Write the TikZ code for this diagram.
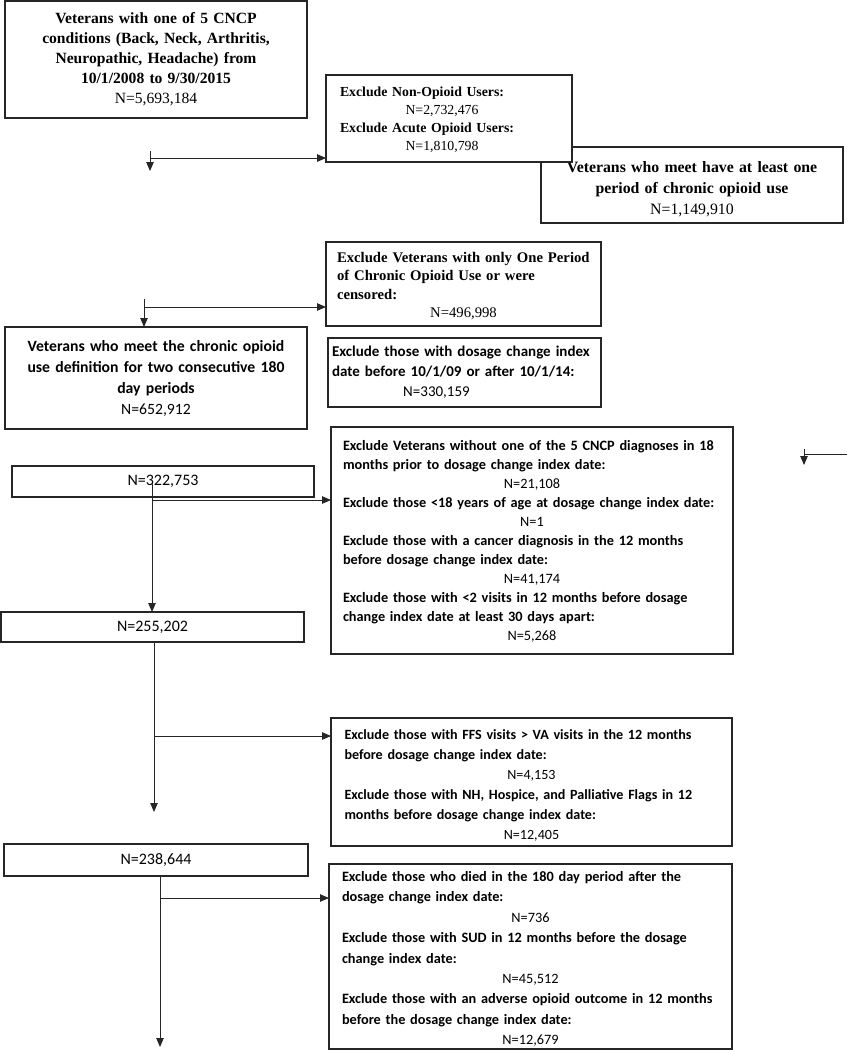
\documentclass[tikz,border=0pt]{standalone}
\usepackage{fontspec}
\setmainfont{Liberation Serif}
\newfontfamily\calibri{Carlito}
\usetikzlibrary{arrows.meta}
\newcommand{\topstrut}[1]{\rule{0pt}{#1}}
\begin{document}
\begin{tikzpicture}[x=1pt,y=-1pt,
  box/.style={draw=black!85, line width=1.3pt, fill=white, inner sep=0pt, outer sep=0pt, rectangle},
  arr/.style={-{Triangle[length=9pt,width=7.5pt]}, line width=0.9pt, draw=black!85},
  ln/.style={line width=0.9pt, draw=black!85},
  countbox/.style={box, font=\calibri\fontsize{16}{18}\selectfont},
]
\useasboundingbox (0,0) rectangle (847,1050);

% top box
\node[box, minimum width=302pt, minimum height=117pt, text width=290pt, align=center,
      font=\fontsize{15.6}{20}\selectfont] (b1) at (156,59.5)
  {\bfseries Veterans with one of 5 CNCP\\ conditions (Back, Neck, Arthritis,\\ Neuropathic, Headache) from\\ 10/1/2008 to 9/30/2015\\ \mdseries N=5,693,184};

% box 3 (drawn before box 2 so box 2 overlaps it)
\node[box, minimum width=302pt, minimum height=76pt, text width=296pt, align=center,
      font=\fontsize{15.8}{21}\selectfont] (b3) at (692,185)
  {\bfseries \topstrut{19pt}Veterans who meet have at least one\\ period of chronic opioid use\\ \mdseries N=1,149,910};

% box 2
\node[box, minimum width=246pt, minimum height=87pt, text width=218pt, align=left,
      font=\fontsize{13.8}{18}\selectfont] (b2) at (449,118.5)
  {\textbf{\topstrut{13pt}Exclude Non-Opioid Users:}\par
   {\centering\hspace*{-14pt}N=2,732,476\par}
   \textbf{Exclude Acute Opioid Users:}\par
   {\centering\hspace*{-14pt}N=1,810,798\par}};

% box 4
\node[box, minimum width=275pt, minimum height=84pt, text width=253pt, align=left,
      font=\fontsize{14.7}{18.5}\selectfont] (b4) at (463.5,284)
  {\textbf{\topstrut{14pt}Exclude Veterans with only One Period\\ of Chronic Opioid Use or were\\ censored:}\par
   {\centering N=496,998\par}};

% box 5
\node[box, minimum width=302pt, minimum height=102pt, text width=296pt, align=center,
      font=\calibri\fontsize{15.7}{21}\selectfont] (b5) at (156,378)
  {\bfseries Veterans who meet the chronic opioid\\ use definition for two consecutive 180\\ day periods\\ \mdseries N=652,912};

% box 6
\node[box, minimum width=273pt, minimum height=69pt, text width=265pt, align=left,
      font=\calibri\fontsize{15}{20}\selectfont] (b6) at (464.5,372.5)
  {\textbf{Exclude those with dosage change index\\ date before 10/1/09 or after 10/1/14:}\par
   {\centering\hspace*{-56pt}N=330,159\par}};

% box 7
\node[box, minimum width=402pt, minimum height=227pt, text width=378pt, align=left,
      font=\calibri\fontsize{14.3}{19}\selectfont] (b7) at (532,540.5)
  {\textbf{\topstrut{12pt}Exclude Veterans without one of the 5 CNCP diagnoses in 18\\ months prior to dosage change index date:}\par
   {\centering N=21,108\par}
   \textbf{Exclude those <18 years of age at dosage change index date:}\par
   {\centering N=1\par}
   \textbf{Exclude those with a cancer diagnosis in the 12 months\\ before dosage change index date:}\par
   {\centering N=41,174\par}
   \textbf{Exclude those with <2 visits in 12 months before dosage\\ change index date at least 30 days apart:}\par
   {\centering N=5,268\par}};

% count boxes
\node[countbox, minimum width=302pt, minimum height=31pt] (b8) at (163,481.5) {N=322,753};
\node[countbox, minimum width=303pt, minimum height=30pt] (b9) at (152.5,627) {N=255,202};
\node[countbox, minimum width=304pt, minimum height=32pt] (b11) at (156,860) {N=238,644};

% box 10
\node[box, minimum width=401pt, minimum height=128pt, text width=374pt, align=left,
      font=\calibri\fontsize{14.1}{20}\selectfont] (b10) at (531.5,782)
  {\textbf{\topstrut{17pt}Exclude those with FFS visits > VA visits in the 12 months\\ before dosage change index date:}\par
   {\centering N=4,153\par}
   \textbf{Exclude those with NH, Hospice, and Palliative Flags in 12\\ months before dosage change index date:}\par
   {\centering N=12,405\par}};

% box 12
\node[box, minimum width=403pt, minimum height=185pt, text width=377pt, align=left,
      font=\calibri\fontsize{14.3}{20.4}\selectfont] (b12) at (530.5,956.5)
  {\textbf{\topstrut{15pt}Exclude those who died in the 180 day period after the\\ dosage change index date:}\par
   {\centering N=736\par}
   \textbf{Exclude those with SUD in 12 months before the dosage\\ change index date:}\par
   {\centering N=45,512\par}
   \textbf{Exclude those with an adverse opioid outcome in 12 months\\ before the dosage change index date:}\par
   {\centering N=12,679\par}};

% connectors
\coordinate (v1) at (150,151);
\coordinate (v1e) at (150,171);
\coordinate (h1) at (150,158);
\draw[arr] (v1) -- (v1e);
\draw[arr] (h1) -- (h1 -| b2.west);

\coordinate (v2) at (144,299);
\coordinate (h2) at (144,307);
\draw[arr] (v2) -- (v2 |- b5.north);
\draw[arr] (h2) -- (h2 -| b4.west);

\coordinate (v3) at (152,484);
\coordinate (h3) at (152,500);
\draw[arr] (v3) -- (v3 |- b9.north);
\draw[arr] (h3) -- (h3 -| b7.west);

\coordinate (v4) at (154,642);
\coordinate (v4e) at (154,812);
\coordinate (h4) at (154,736);
\draw[arr] (v4) -- (v4e);
\draw[arr] (h4) -- (h4 -| b10.west);

\coordinate (v5) at (160,876);
\coordinate (v5e) at (160,1047);
\coordinate (h5) at (160,898);
\draw[arr] (v5) -- (v5e);
\draw[arr] (h5) -- (h5 -| b12.west);

\coordinate (r1) at (847,454);
\coordinate (r2) at (804,454);
\coordinate (r3) at (804,449);
\coordinate (r4) at (804,465);
\draw[ln] (r1) -- (r2);
\draw[arr] (r3) -- (r4);
\end{tikzpicture}
\end{document}
